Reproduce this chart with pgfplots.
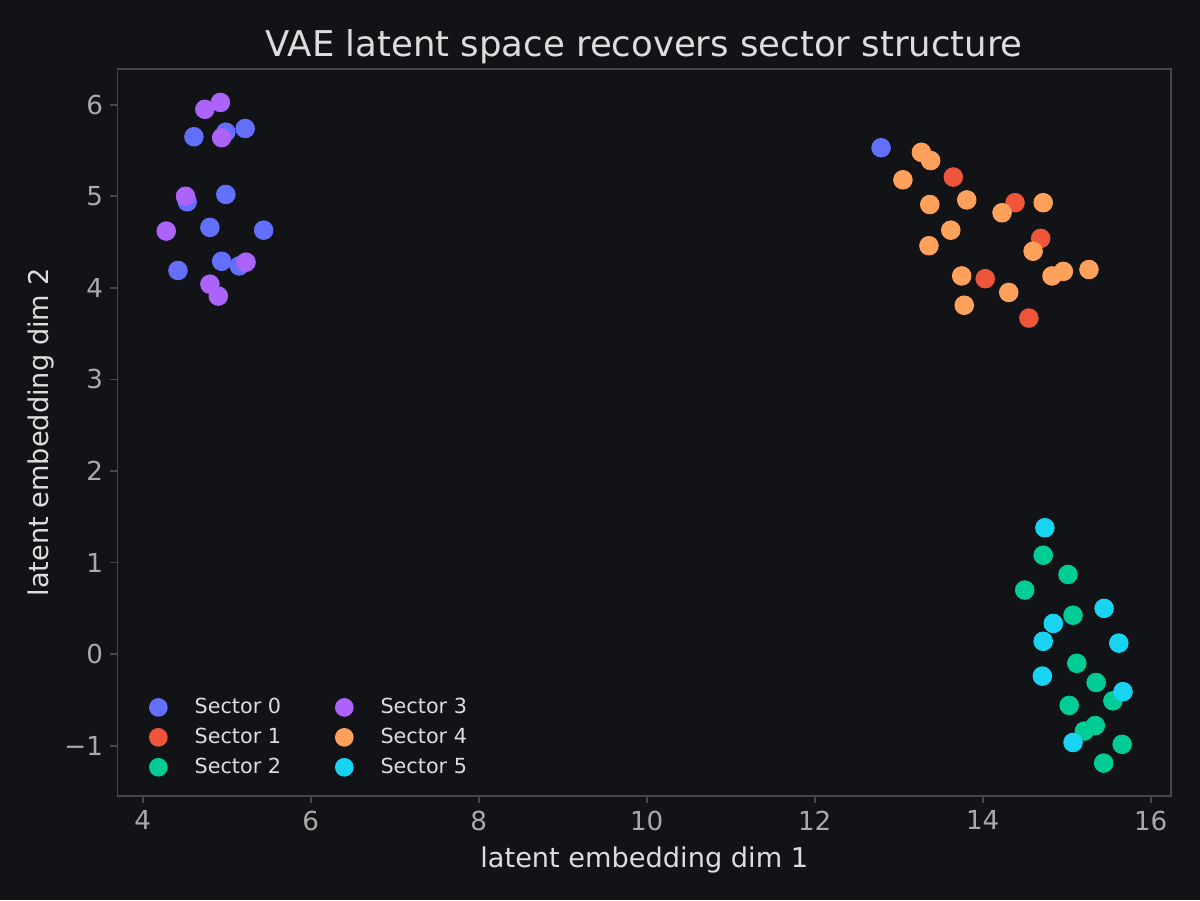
\documentclass[border=0pt]{standalone}
\usepackage{fontspec}
\setmainfont{DejaVu Sans}
\usepackage{pgfplots}
\pgfplotsset{compat=1.18}

\definecolor{bgc}{HTML}{111317}
\definecolor{framec}{HTML}{45474B}
\definecolor{tickc}{HTML}{AAAAAA}
\definecolor{labelc}{HTML}{DDDDDD}
\definecolor{sA}{HTML}{636EFA}
\definecolor{sB}{HTML}{EF553B}
\definecolor{sC}{HTML}{00CC96}
\definecolor{sD}{HTML}{AB63FA}
\definecolor{sE}{HTML}{FFA15A}
\definecolor{sF}{HTML}{19D3F3}

\begin{document}
\begin{tikzpicture}
\fill[bgc] (-56.61pt,-50.11pt) rectangle (521.55pt,383.54pt);
\begin{axis}[
  at={(0,0)}, anchor=south west,
  scale only axis, width=507.6pt, height=350.3pt,
  xmin=3.70, xmax=16.242, ymin=-1.55, ymax=6.39,
  axis background/.style={fill=bgc},
  axis line style={framec, line width=0.8pt},
  xtick={4,6,8,10,12,14,16},
  ytick={-1,0,1,2,3,4,5,6},
  yticklabels={−1,0,1,2,3,4,5,6},
  tick style={framec, line width=0.8pt},
  tick align=outside, major tick length=3.5pt,
  xtick pos=bottom, ytick pos=left,
  /pgf/number format/assume math mode=true,
  ticklabel style={font=\fontsize{12.6}{15}\selectfont, text=tickc},
  xlabel={latent embedding dim 1},
  ylabel={latent embedding dim 2},
  label style={font=\fontsize{13.1}{15}\selectfont, text=labelc},
  xlabel style={yshift=-1pt},
  ylabel style={yshift=-2pt},
  title={VAE latent space recovers sector structure},
  title style={font=\fontsize{17.1}{20}\selectfont, text=labelc, yshift=-7pt},
  legend columns=2,
  legend style={at={(0.005,0.01)}, anchor=south west, xshift=6.4pt, yshift=1.7pt,
    draw=none, fill=none,
    font=\fontsize{10}{12}\selectfont, text=labelc,
    row sep=1.5pt, /tikz/every even column/.append style={column sep=20.9pt}},
  legend cell align=left,
  legend image code/.code={
    \path[draw=none, fill=none] (0pt,0pt) -- (23pt,0pt);
    \fill[#1, draw=none] (7.55pt,0pt) circle (4.5pt);},
  every axis plot/.append style={only marks, mark=*, mark size=4.5pt,
    mark options={draw=bgc, line width=0.4pt}},
]
% Sector 0
\addplot[forget plot, mark options={fill=sA}, sA] coordinates {
 (4.61,5.65) (4.99,5.70) (5.22,5.74) (4.53,4.94) (4.99,5.02)
 (4.80,4.66) (5.44,4.63) (4.42,4.19) (4.94,4.29) (5.15,4.24) (12.79,5.53)};
% Sector 1
\addplot[forget plot, mark options={fill=sB}, sB] coordinates {
 (13.65,5.21) (14.385,4.93) (14.69,4.54) (14.03,4.10) (14.55,3.67)};
% Sector 2
\addplot[forget plot, mark options={fill=sC}, sC] coordinates {
 (14.72,1.08) (15.015,0.87) (14.50,0.70) (15.075,0.425) (15.12,-0.10)
 (15.35,-0.31) (15.55,-0.51) (15.03,-0.56) (15.21,-0.84) (15.34,-0.78)
 (15.66,-0.985) (15.44,-1.19)};
% Sector 3
\addplot[forget plot, mark options={fill=sD}, sD] coordinates {
 (4.925,6.025) (4.74,5.95) (4.94,5.64) (4.51,5.00) (4.28,4.62)
 (5.23,4.28) (4.80,4.04) (4.90,3.91)};
% Sector 4
\addplot[forget plot, mark options={fill=sE}, sE] coordinates {
 (13.27,5.48) (13.38,5.39) (13.05,5.18) (13.37,4.91) (13.81,4.96)
 (14.23,4.82) (14.72,4.93) (13.62,4.63) (13.36,4.46) (14.60,4.40)
 (14.96,4.18) (14.825,4.13) (15.265,4.20) (13.75,4.13) (14.31,3.95)
 (13.78,3.81)};
% Sector 5
\addplot[forget plot, mark options={fill=sF}, sF] coordinates {
 (14.74,1.38) (15.445,0.50) (14.84,0.335) (14.72,0.14) (15.62,0.12)
 (14.71,-0.24) (15.67,-0.41) (15.075,-0.965)};
% legend filled column by column
\addlegendimage{sA}\addlegendentry{Sector 0}
\addlegendimage{sD}\addlegendentry{Sector 3}
\addlegendimage{sB}\addlegendentry{Sector 1}
\addlegendimage{sE}\addlegendentry{Sector 4}
\addlegendimage{sC}\addlegendentry{Sector 2}
\addlegendimage{sF}\addlegendentry{Sector 5}
\end{axis}
\pgfresetboundingbox
\path (-56.61pt,-50.11pt) rectangle (521.55pt,383.54pt);
\end{tikzpicture}
\end{document}
